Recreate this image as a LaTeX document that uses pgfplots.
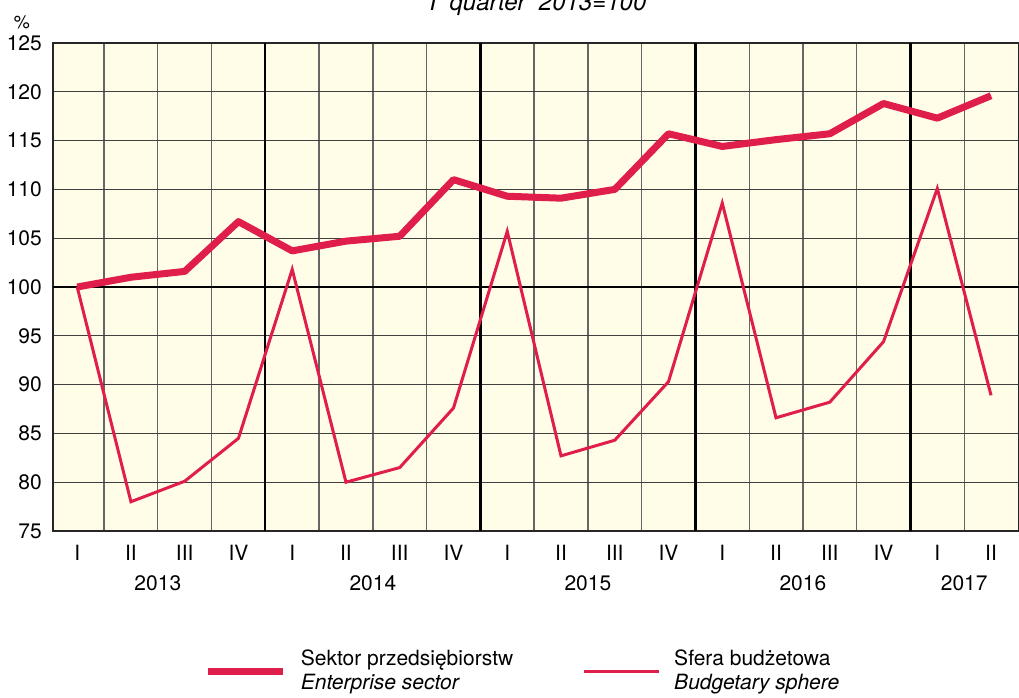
\documentclass[border=0pt]{standalone}
\usepackage{fontspec}
\setmainfont{TeX Gyre Heros}
\usepackage{pgfplots}
\pgfplotsset{compat=1.18}
\definecolor{redl}{RGB}{224,30,76}
\definecolor{bg}{RGB}{255,253,231}
\begin{document}
\fontsize{21}{24}\selectfont
\begin{tikzpicture}
\useasboundingbox (0,0) rectangle (1019pt,697pt);
\begin{axis}[
 scale only axis, width=966pt, height=488pt,
 at={(53pt,166pt)}, anchor=south west,
 xmin=-0.45, xmax=17.52, ymin=75, ymax=125,
 axis background/.style={fill=bg},
 ytick={75,80,...,125},
 xtick={0,...,17},
 xticklabels={I,II,III,IV,I,II,III,IV,I,II,III,IV,I,II,III,IV,I,II},
 major tick length=0pt, minor tick length=0pt,
 ymajorgrids,
 major grid style={black!75, line width=1.3pt},
 minor xtick={0.5,1.5,2.5,4.5,5.5,6.5,8.5,9.5,10.5,12.5,13.5,14.5,16.5},
 xminorgrids, minor grid style={black!60, line width=1.3pt},
 extra x ticks={3.5,7.5,11.5,15.5}, extra x tick labels={},
 extra x tick style={xmajorgrids=true, major grid style={black, line width=2.3pt}},
 extra y ticks={100}, extra y tick labels={},
 extra y tick style={ymajorgrids=true, major grid style={black, line width=2.3pt}},
 axis line style={black!85, line width=1.5pt},
 tick label style={font=\fontsize{21}{24}\selectfont},
 /pgf/number format/assume math mode=true,
 xticklabel style={yshift=-7pt},
 yticklabel style={xshift=-4pt},
 clip=false,
 legend columns=2,
 legend cell align=left,
 legend style={draw=none, fill=none, at={(0.4866,-0.275)}, anchor=center,
   font=\fontsize{21}{24}\selectfont,
   /tikz/every odd column/.style={column sep=12pt},
   /tikz/every even column/.style={column sep=67pt}},
 legend image code/.code={\draw[#1] (0pt,-6pt) -- (75pt,-6pt);},
]
\addplot[redl, line width=7pt, line join=round] coordinates {
(0,100) (1,101.0) (2,101.6) (3,106.7) (4,103.7) (5,104.7) (6,105.2) (7,111.0)
(8,109.3) (9,109.1) (10,110.0) (11,115.7) (12,114.4) (13,115.1) (14,115.7) (15,118.8)
(16,117.3) (17,119.6)};
\addlegendentry{\begin{tabular}{@{}l@{}}Sektor przedsiębiorstw\\\textit{Enterprise sector}\end{tabular}}
\addplot[redl, line width=3pt, line join=miter] coordinates {
(0,100) (1,78.0) (2,80.1) (3,84.5) (4,101.8) (5,80.0) (6,81.5) (7,87.6)
(8,105.7) (9,82.7) (10,84.3) (11,90.3) (12,108.6) (13,86.6) (14,88.2) (15,94.4)
(16,110.1) (17,88.9)};
\addlegendentry{\begin{tabular}{@{}l@{}}Sfera budżetowa\\\textit{Budgetary sphere}\end{tabular}}
\node at (axis cs:1.5,75) [yshift=-52pt] {2013};
\node at (axis cs:5.5,75) [yshift=-52pt] {2014};
\node at (axis cs:9.5,75) [yshift=-52pt] {2015};
\node at (axis cs:13.5,75) [yshift=-52pt] {2016};
\node at (axis cs:16.5,75) [yshift=-52pt] {2017};
\end{axis}
\node at (22pt,675pt) {\fontsize{18}{20}\selectfont\%};
\node[anchor=base] at (538pt,686pt) {\fontsize{24}{26}\selectfont\textit{I~ quarter~ 2013=100}};
\end{tikzpicture}
\end{document}
